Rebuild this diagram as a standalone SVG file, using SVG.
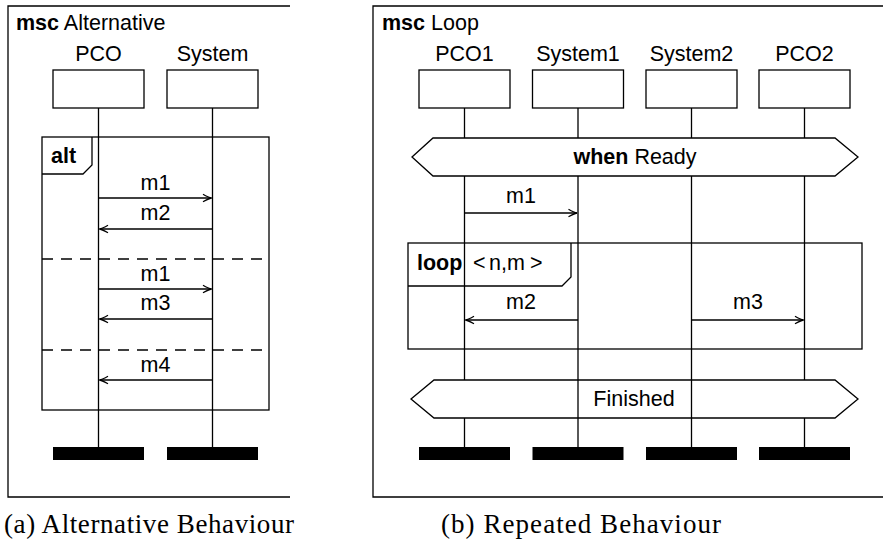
<svg xmlns="http://www.w3.org/2000/svg" width="883" height="542" viewBox="0 0 883 542">
<defs>
<marker id="arr" markerWidth="12" markerHeight="10" refX="0" refY="0" viewBox="-10 -5 12 10" orient="auto" markerUnits="userSpaceOnUse">
<path d="M-8.5,-3.8 Q-3,-0.6 0,0 Q-3,0.6 -8.5,3.8" fill="none" stroke="#000" stroke-width="1.3"/>
</marker>
</defs>
<style>
text{font-family:"Liberation Sans",Arial,sans-serif;font-size:21.5px;fill:#000}
.b{font-weight:bold}
.c{text-anchor:middle}
.cap{font-family:"Liberation Serif","Times New Roman",serif;font-size:27px}
.ln{fill:none;stroke:#000;stroke-width:1.3}
.box{fill:#fff;stroke:#000;stroke-width:1.3}
.bar{fill:#000}
.msg{fill:none;stroke:#000;stroke-width:1.3;marker-end:url(#arr)}
.dash{fill:none;stroke:#000;stroke-width:1.3;stroke-dasharray:11 8}
</style>
<rect width="883" height="542" fill="#fff"/>

<!-- Subfigure (a) -->
<g id="frameA">
<path class="ln" d="M290,6 H8 V497 H290"/>
<text x="16" y="30"><tspan class="b">msc</tspan> Alternative</text>
</g>
<g id="altFrame">
<rect class="ln" x="42" y="137" width="227" height="273"/>
<path class="ln" d="M42,174 H83 L92,165 V137"/>
<text class="b" x="51" y="163">alt</text>
<path class="dash" d="M42,259 H269"/>
<path class="dash" d="M42,350 H269"/>
</g>
<g id="PCO">
<text class="c" x="98.5" y="61">PCO</text>
<rect class="box" x="53" y="70" width="91" height="38"/>
<path class="ln" d="M98.5,108 V447"/>
<rect class="bar" x="53" y="447" width="91" height="13"/>
</g>
<g id="System">
<text class="c" x="212.5" y="61">System</text>
<rect class="box" x="167" y="70" width="91" height="38"/>
<path class="ln" d="M212.5,108 V447"/>
<rect class="bar" x="167" y="447" width="91" height="13"/>
</g>
<g id="connectorsA">
<path class="msg" d="M98.5,198 H211.5"/>
<text class="c" x="155.5" y="190">m1</text>
<path class="msg" d="M212.5,229 H99.5"/>
<text class="c" x="155.5" y="220">m2</text>
<path class="msg" d="M98.5,289 H211.5"/>
<text class="c" x="155.5" y="281">m1</text>
<path class="msg" d="M212.5,319 H99.5"/>
<text class="c" x="155.5" y="310">m3</text>
<path class="msg" d="M212.5,380 H99.5"/>
<text class="c" x="155.5" y="372">m4</text>
</g>
<text class="cap" x="4" y="533" textLength="290" lengthAdjust="spacing">(a) Alternative Behaviour</text>

<!-- Subfigure (b) -->
<g id="frameB">
<path class="ln" d="M883,6 H373 V497 H883"/>
<text x="382" y="30"><tspan class="b">msc</tspan> Loop</text>
</g>
<g id="PCO1">
<text class="c" x="464.5" y="61">PCO1</text>
<rect class="box" x="419" y="70" width="91" height="38"/>
<path class="ln" d="M464.5,108 V138 M464.5,176 V380 M464.5,418 V447"/>
<rect class="bar" x="419" y="447" width="91" height="13"/>
</g>
<g id="System1">
<text class="c" x="578" y="61">System1</text>
<rect class="box" x="532.5" y="70" width="91" height="38"/>
<path class="ln" d="M578,108 V138 M578,176 V447"/>
<rect class="bar" x="532.5" y="447" width="91" height="13"/>
</g>
<g id="System2">
<text class="c" x="691.5" y="61">System2</text>
<rect class="box" x="646" y="70" width="91" height="38"/>
<path class="ln" d="M691.5,108 V138 M691.5,176 V447"/>
<rect class="bar" x="646" y="447" width="91" height="13"/>
</g>
<g id="PCO2">
<text class="c" x="804.5" y="61">PCO2</text>
<rect class="box" x="759" y="70" width="91" height="38"/>
<path class="ln" d="M804.5,108 V138 M804.5,176 V380 M804.5,418 V447"/>
<rect class="bar" x="759" y="447" width="91" height="13"/>
</g>
<g id="whenReady">
<path class="ln" d="M412,157 L433,138 H835 L858,157 L835,176 H433 Z"/>
<text class="c" x="635" y="164"><tspan class="b">when</tspan> Ready</text>
</g>
<g id="loopFrame">
<rect class="ln" x="408" y="243" width="454" height="106"/>
<path class="ln" d="M408,286 H562 L571,277 V243"/>
<text class="b" x="417" y="270">loop</text>
<text y="270"><tspan x="473">&lt;</tspan><tspan x="489">n,m</tspan><tspan x="530">&gt;</tspan></text>
</g>
<g id="finished">
<path class="ln" d="M411,399 L434,380 H835 L858,399 L835,418 H434 Z"/>
<text class="c" x="634" y="406">Finished</text>
</g>
<g id="connectorsB">
<path class="msg" d="M464.5,213 H577"/>
<text class="c" x="521" y="203">m1</text>
<path class="msg" d="M578,320 H465.5"/>
<text class="c" x="521" y="309">m2</text>
<path class="msg" d="M691.5,320 H803.5"/>
<text class="c" x="748" y="309">m3</text>
</g>
<text class="cap" x="441" y="533" textLength="280" lengthAdjust="spacing">(b) Repeated Behaviour</text>
</svg>
